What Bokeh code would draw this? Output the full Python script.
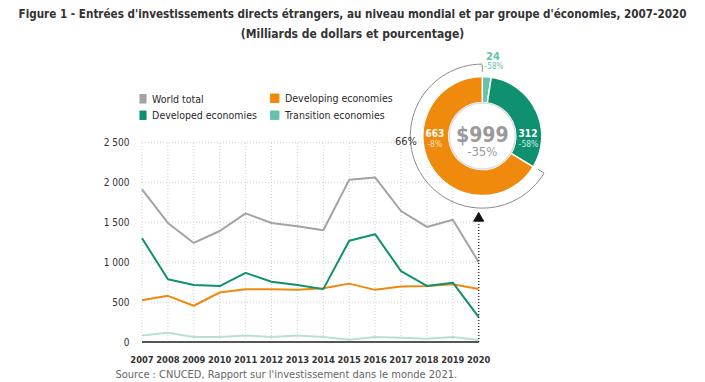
import math
from bokeh.plotting import figure
from bokeh.models import Range1d, FixedTicker, Title
from bokeh.embed import file_html
from bokeh.resources import INLINE
from bokeh.core.properties import value

# ---------------- data ----------------
years = list(range(2007, 2021))
world = [1910, 1490, 1240, 1390, 1610, 1490, 1450, 1400, 2030, 2060, 1640, 1440, 1530, 999]
developed = [1300, 785, 715, 700, 865, 755, 715, 662, 1268, 1350, 888, 702, 743, 312]
developing = [524, 578, 454, 620, 661, 661, 653, 673, 731, 653, 694, 702, 723, 663]
transition = [83, 116, 62, 62, 83, 62, 83, 62, 29, 62, 54, 41, 62, 24]
series_names = ["World total", "Developed economies", "Developing economies", "Transition economies"]
y_ticks = [0, 500, 1000, 1500, 2000, 2500]
y_tick_labels = ["0", "500", "1 000", "1 500", "2 000", "2 500"]
donut_names = ["Transition economies", "Developed economies", "Developing economies"]
donut_values = [24, 312, 663]
donut_changes = ["-58%", "-58%", "-8%"]
total_2020 = 999
total_change = "-35%"
developing_share = "66%"

title1 = "Figure 1 - Entrées d'investissements directs étrangers, au niveau mondial et par groupe d'économies, 2007-2020"
title2 = "(Milliards de dollars et pourcentage)"
source_txt = "Source : CNUCED, Rapport sur l'investissement dans le monde 2021."

# ---------------- style ----------------
FONT = "DejaVu Sans Condensed"
C_WORLD = "#a3a3a3"
C_DEVD = "#0f9170"
C_DEVG = "#ef8a0c"
C_TRANS = "#66c2ab"
C_TRANS_LINE = "#b8e0d6"
GRID = "#cfcfcf"

# page-pixel -> data helpers (layout only)
PXX = 25.9      # px per year
PXY = 0.0807    # px per unit
X0PX = 141.5    # page x of first year
Y0PX = 344.5    # page y of value 0


def dx(px):
    return years[0] + (px - X0PX) / PXX


def dy(py):
    return (Y0PX - py) / PXY


W, H = 705, 380
F_L, F_R, F_T, F_B = 139, 565, 46, 347

p = figure(width=W, height=H, x_range=Range1d(dx(F_L), dx(F_R)), y_range=Range1d(dy(F_B), dy(F_T)),
           output_backend="svg", toolbar_location=None,
           min_border_left=F_L, min_border_right=W - F_R, min_border_top=F_T, min_border_bottom=H - F_B)
p.outline_line_color = None
p.grid.visible = False
p.background_fill_color = "white"
p.border_fill_color = "white"

# titles (main title on top, subtitle added closest to the frame)
p.title.text = title1
p.title.align = "center"
p.title.text_font = FONT
p.title.text_font_size = "11.6px"
p.title.text_font_style = "bold"
p.title.text_color = "#333333"
p.title.standoff = -4
p.add_layout(Title(text=title2, align="center", text_font=FONT, text_font_size="12px",
                   text_font_style="bold", text_color="#333333", standoff=12), "above")

# axes
p.xaxis.ticker = FixedTicker(ticks=years)
p.xaxis.axis_line_color = None
p.xaxis.major_tick_line_color = None
p.xaxis.minor_tick_line_color = None
p.xaxis.major_label_standoff = 5
p.xaxis.major_label_text_font = FONT
p.xaxis.major_label_text_font_size = "9.3px"
p.xaxis.major_label_text_font_style = "bold"
p.xaxis.major_label_text_color = "#333333"

p.yaxis.ticker = FixedTicker(ticks=y_ticks)
p.yaxis.major_label_overrides = {t: l for t, l in zip(y_ticks, y_tick_labels)}
p.yaxis.axis_line_color = None
p.yaxis.major_tick_line_color = None
p.yaxis.minor_tick_line_color = None
p.yaxis.major_label_standoff = 4
p.yaxis.major_label_text_font = FONT
p.yaxis.major_label_text_font_size = "10px"
p.yaxis.major_label_text_color = "#333333"

# source note below the axis
p.add_layout(Title(text=source_txt, align="left", offset=115 - F_L, text_font=FONT,
                   text_font_size="11px", text_font_style="normal", text_color="#666666",
                   standoff=0), "below")

# dotted grid limited to the data area
hy = y_ticks[1:]
p.segment(x0=[years[0]] * len(hy), y0=hy, x1=[years[-1]] * len(hy), y1=hy,
          line_color=GRID, line_width=1, line_dash="1 2")
vx = years[:-1]
p.segment(x0=vx, y0=[0] * len(vx), x1=vx, y1=[y_ticks[-1]] * len(vx),
          line_color=GRID, line_width=1, line_dash="1 2")

# baseline
p.segment(x0=[years[0]], y0=[0], x1=[years[-1]], y1=[0], line_color="#555555", line_width=2)

# series
p.line(years, transition, line_color=C_TRANS_LINE, line_width=2)
p.line(years, developing, line_color=C_DEVG, line_width=2)
p.line(years, developed, line_color=C_DEVD, line_width=2)
p.line(years, world, line_color=C_WORLD, line_width=2)

# arrow at 2020 pointing to the donut
p.segment(x0=[years[-1]], y0=[0], x1=[years[-1]], y1=[dy(223)], line_color="#333333",
          line_width=1.5, line_dash="1 2")
p.scatter(x=[years[-1]], y=[dy(219.5)], marker="triangle", size=10, fill_color="#111111",
          line_color="#111111")

# legend (manual, two columns)
leg_cols = [C_WORLD, C_DEVD, C_DEVG, C_TRANS]
leg_x = [dx(141.3), dx(141.3), dx(274.2), dx(274.2)]
leg_y = [dy(98.8), dy(115.5), dy(98.3), dy(115.5)]
p.scatter(x=leg_x, y=leg_y, marker="square", size=8.5, fill_color=leg_cols, line_color=leg_cols)
p.text(x=[v + 10.3 / PXX for v in leg_x], y=leg_y, text=series_names, text_font=value(FONT),
       text_font_size="10.5px", text_color="#2a2a2a", text_baseline="middle", text_align="left")

# donut for 2020
cx, cy = dx(481.8), dy(136.5)
tot = sum(donut_values)
starts, ends = [], []
acc = 0
for v in donut_values:
    a0 = math.pi / 2 - acc / tot * 2 * math.pi
    acc += v
    a1 = math.pi / 2 - acc / tot * 2 * math.pi
    starts.append(a1)
    ends.append(a0)
p.annular_wedge(x=cx, y=cy, inner_radius=33.5, outer_radius=59.5,
                inner_radius_units="screen", outer_radius_units="screen",
                start_angle=starts, end_angle=ends, direction="anticlock",
                fill_color=[C_TRANS, C_DEVD, C_DEVG], line_color="white", line_width=1.5)
p.scatter(x=[cx], y=[cy], marker="circle", size=66, fill_color="white", line_color="#dddddd",
          line_width=1.5)

# outer arc showing developing share
a_end = math.pi / 2
a_start = math.pi / 2 + donut_values[2] / tot * 2 * math.pi
R_ARC = 72
p.arc(x=cx, y=cy, radius=R_ARC, radius_units="screen", start_angle=a_end, end_angle=a_start,
      direction="anticlock", line_color="#8a8a8a", line_width=1)
tx0, ty0, tx1, ty1 = [], [], [], []
for a in (a_end, a_start):
    tx0.append(cx + R_ARC * math.cos(a) / PXX)
    ty0.append(cy + R_ARC * math.sin(a) / PXY)
    tx1.append(cx + (R_ARC - 7) * math.cos(a) / PXX)
    ty1.append(cy + (R_ARC - 7) * math.sin(a) / PXY)
p.segment(x0=tx0, y0=ty0, x1=tx1, y1=ty1, line_color="#8a8a8a", line_width=1)

# donut texts
p.text(x=[cx], y=[dy(135.5)], text=["$" + str(total_2020)], text_font=value(FONT),
       text_font_size="21px", text_font_style="bold", text_color="#9a9a9a",
       text_align="center", text_baseline="middle")
p.text(x=[cx], y=[dy(152)], text=[total_change], text_font=value(FONT),
       text_font_size="13px", text_color="#9a9a9a", text_align="center", text_baseline="middle")

p.text(x=[dx(434.3), dx(527.5)], y=[dy(133.3)] * 2, text=[str(donut_values[2]), str(donut_values[1])],
       text_font=value(FONT), text_font_size="10px", text_font_style="bold", text_color="white",
       text_align="center", text_baseline="middle")
p.text(x=[dx(434.3), dx(528)], y=[dy(144)] * 2, text=[donut_changes[2], donut_changes[1]],
       text_font=value(FONT), text_font_size="8.5px", text_color=["#fde3c4", "#cdebe3"],
       text_align="center", text_baseline="middle")
p.text(x=[dx(492.5)], y=[dy(55.5)], text=[str(donut_values[0])], text_font=value(FONT),
       text_font_size="11px", text_font_style="bold", text_color=C_TRANS,
       text_align="center", text_baseline="middle")
p.text(x=[dx(493.5)], y=[dy(66.5)], text=[donut_changes[0]], text_font=value(FONT),
       text_font_size="8px", text_color=C_TRANS, text_align="center", text_baseline="middle")
p.text(x=[dx(416.5)], y=[dy(141.5)], text=[developing_share], text_font=value(FONT),
       text_font_size="11px", text_color="#333333", text_align="right", text_baseline="middle")

open("out.html", "w").write(file_html(p, INLINE))
